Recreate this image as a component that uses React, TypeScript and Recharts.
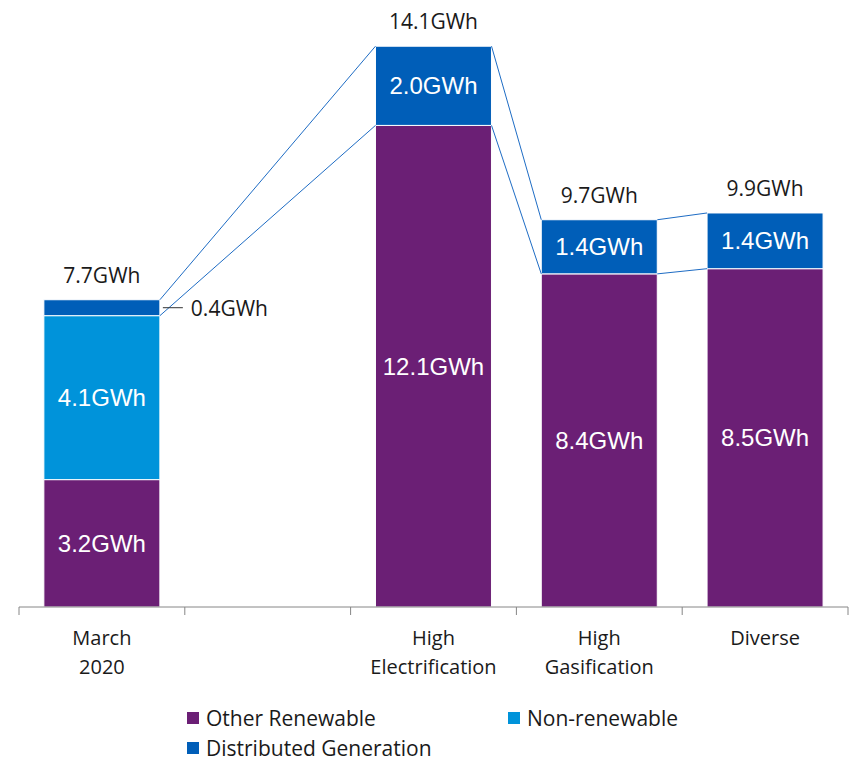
import { Bar, BarChart, LabelList, Legend, ReferenceLine, XAxis, YAxis } from 'recharts';

// values (GWh)
const categories = ['March\n2020', '', 'High\nElectrification', 'High\nGasification', 'Diverse'];
const otherRenewable = [3.2, 0, 12.1, 8.37, 8.5];
const nonRenewable = [4.12, 0, 0, 0, 0];
const distributedGen = [0.4, 0, 1.99, 1.36, 1.4];

const series = [
  { key: 'other', name: 'Other Renewable', color: '#6B1F75' },
  { key: 'nonRen', name: 'Non-renewable', color: '#0093DA' },
  { key: 'dg', name: 'Distributed Generation', color: '#005EB8' },
];

const data = categories.map((name, i) => ({
  name,
  pos: i + 0.5,
  other: otherRenewable[i],
  nonRen: nonRenewable[i],
  dg: distributedGen[i],
  total: otherRenewable[i] + nonRenewable[i] + distributedGen[i],
}));

const GAP = 0.15; // barCategoryGap as a fraction of the band
const W = 849;
const H = 758;

// boundaries (tick marks) and band centres (labels) on the numeric edge axis
const edgeTicks: number[] = [];
for (let i = 0; i <= categories.length; i++) {
  edgeTicks.push(i);
  if (i < categories.length) edgeTicks.push(i + 0.5);
}

// connector lines between neighbouring bars (top of stack and top of the segment under DG)
const shown = data.map((d, i) => (d.total > 0 ? i : -1)).filter((i) => i >= 0);
const connectors: { x1: number; y1: number; x2: number; y2: number }[] = [];
for (let k = 0; k < shown.length - 1; k++) {
  const a = shown[k];
  const b = shown[k + 1];
  connectors.push({ x1: a + 1 - GAP, y1: data[a].total, x2: b + GAP, y2: data[b].total });
  connectors.push({ x1: a + 1 - GAP, y1: data[a].total - data[a].dg, x2: b + GAP, y2: data[b].total - data[b].dg });
}

const fmt = (v: number) => `${v.toFixed(1)}GWh`;

function InsideLabel(props: any) {
  const { x, y, width, height, value } = props;
  const v = Number(value);
  if (!v) return null;
  return (
    <text x={x + width / 2} y={y + height / 2} textAnchor="middle" dominantBaseline="central"
      fill="#fff" fontFamily="Liberation Sans, Arial" fontSize={24}>
      {fmt(v)}
    </text>
  );
}

function DgLabel(props: any) {
  const { x, y, width, height, value } = props;
  const v = Number(value);
  if (!v) return null;
  if (height < 24) {
    const cy = y + height / 2;
    return (
      <g>
        <line x1={x + width + 3} x2={x + width + 23} y1={cy} y2={cy} stroke="#333" strokeWidth={1} />
        <text x={x + width + 31} y={cy} dominantBaseline="central" fill="#1a1a1a"
          fontFamily="Open Sans" fontSize={21}>
          {fmt(v)}
        </text>
      </g>
    );
  }
  return <InsideLabel {...props} />;
}

function TotalLabel(props: any) {
  const { x, y, width, value } = props;
  const v = Number(value);
  if (!v) return null;
  return (
    <text x={x + width / 2} y={y - 25} textAnchor="middle" dominantBaseline="central"
      fill="#1a1a1a" fontFamily="Open Sans" fontSize={21}>
      {fmt(v)}
    </text>
  );
}

function EdgeTick({ x, y, payload }: any) {
  const v = Number(payload.value);
  if (Number.isInteger(v)) {
    return <line x1={x} x2={x} y1={y} y2={y + 8} stroke="#868686" strokeWidth={1} />;
  }
  const lines = categories[Math.floor(v)].split('\n');
  return (
    <text x={x} y={y} textAnchor="middle" fill="#1a1a1a" fontFamily="Open Sans" fontSize={20}>
      {lines.map((l, k) => (
        <tspan key={k} x={x} dy={k === 0 ? 38 : 29}>{l}</tspan>
      ))}
    </text>
  );
}

const legendSpots = [
  { left: 187, row: 40 },
  { left: 508, row: 40 },
  { left: 187, row: 70 },
];

function LegendBox() {
  return (
    <div style={{ position: 'relative', width: W, height: 80 }}>
      {series.map((s, i) => (
        <div key={s.key} style={{
          position: 'absolute', left: legendSpots[i].left, top: legendSpots[i].row - 11, height: 22,
          lineHeight: '22px', display: 'flex', alignItems: 'center', fontFamily: 'Open Sans', fontSize: 21,
          color: '#1a1a1a', whiteSpace: 'nowrap',
        }}>
          <span style={{ width: 12, height: 12, background: s.color, marginRight: 7, display: 'inline-block' }} />
          {s.name}
        </div>
      ))}
    </div>
  );
}

export default function App() {
  return (
    <div style={{ position: 'absolute', left: 0, top: 0, width: W, height: H, background: '#fff' }}>
      <BarChart width={W} height={H} data={data} barCategoryGap={`${GAP * 100}%`}
        margin={{ top: 10, right: 1, left: 19, bottom: 0 }}>
        <XAxis dataKey="name" hide height={0} />
        <XAxis xAxisId="edge" dataKey="pos" type="number" domain={[0, categories.length]} ticks={edgeTicks}
          interval={0} tickLine={false} tickSize={0} tickMargin={0} height={71} stroke="#868686"
          tick={<EdgeTick />} allowDataOverflow />
        <YAxis hide domain={[0, 15]} />
        <Legend verticalAlign="bottom" content={<LegendBox />} wrapperStyle={{ left: 0, width: W }} />
        <Bar dataKey="other" name={series[0].name} stackId="a" fill={series[0].color}
          stroke="#fff" strokeWidth={1} isAnimationActive={false}>
          <LabelList dataKey="other" content={<InsideLabel />} />
        </Bar>
        <Bar dataKey="nonRen" name={series[1].name} stackId="a" fill={series[1].color}
          stroke="#fff" strokeWidth={1} isAnimationActive={false}>
          <LabelList dataKey="nonRen" content={<InsideLabel />} />
        </Bar>
        <Bar dataKey="dg" name={series[2].name} stackId="a" fill={series[2].color}
          stroke="#fff" strokeWidth={1} isAnimationActive={false}>
          <LabelList dataKey="dg" content={<DgLabel />} />
          <LabelList dataKey="total" content={<TotalLabel />} />
        </Bar>
        {connectors.map((c, i) => (
          <ReferenceLine key={i} xAxisId="edge" ifOverflow="visible"
            segment={[{ x: c.x1, y: c.y1 }, { x: c.x2, y: c.y2 }]}
            stroke="#1E6CC4" strokeWidth={1} />
        ))}
      </BarChart>
    </div>
  );
}
